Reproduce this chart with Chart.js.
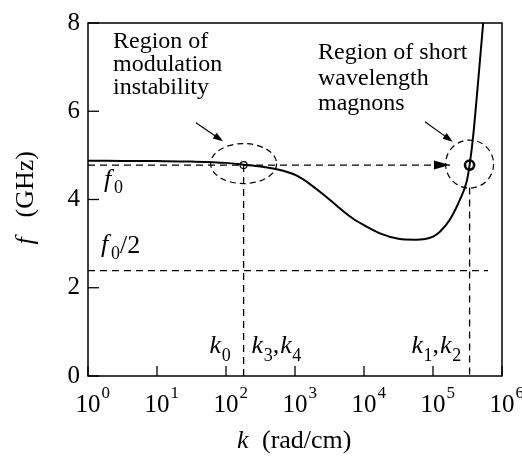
<!DOCTYPE html>
<html><head><meta charset="utf-8">
<script src="https://cdn.jsdelivr.net/npm/chart.js@4.4.1/dist/chart.umd.min.js"></script>
<style>html,body{margin:0;padding:0;background:#fff;}#wrap{width:522px;height:456px;}</style>
</head><body><div id="wrap"><canvas id="c" width="522" height="456"></canvas></div>
<script>
// ---- data ----
const kValues = [1, 3.16, 10, 31.6, 100, 178, 316, 562, 1000, 1330, 1780, 2370, 3160, 4220, 5620, 7500, 10000, 17800, 31600, 56200, 100000, 126000, 178000, 251000, 309000, 339000, 380000, 427000, 479000, 537000];
const fValues = [4.88, 4.875, 4.87, 4.86, 4.83, 4.79, 4.75, 4.68, 4.56, 4.45, 4.31, 4.16, 4.00, 3.83, 3.67, 3.53, 3.42, 3.22, 3.11, 3.09, 3.16, 3.27, 3.56, 4.03, 4.42, 4.78, 5.40, 6.25, 7.15, 8.05];
const f0 = 4.78;
const f0Half = 2.39;
const k3 = 180;
const k1 = 339000;
const kArrowTip = 176000;
const kHalfEnd = 627000;
const k1LineTop = 4.27;
const xTickExponents = [0, 1, 2, 3, 4, 5, 6];
const yTickValues = [0, 2, 4, 6, 8];
const arrowFromK = [36.7, 76600];
const arrowFromF = [5.74, 5.76];
const arrowToK = [90.5, 193000];
const arrowToF = [5.32, 5.31];
const leftNote = ["Region of", "modulation", "instability"];
const rightNote = ["Region of short", "wavelength", "magnons"];

const SERIF = '"Liberation Serif", "Times New Roman", Times, serif';
const curve = kValues.map((k, i) => ({x: k, y: fValues[i]}));
const dashed = {showLine: true, borderColor: '#000', borderWidth: 1.3, borderDash: [7, 5], pointRadius: 0, fill: false};

function arrowHead(ctx, x1, y1, x2, y2, len, half) {
  const ang = Math.atan2(y2 - y1, x2 - x1);
  ctx.beginPath();
  ctx.moveTo(x2, y2);
  ctx.lineTo(x2 - len * Math.cos(ang) + half * Math.sin(ang), y2 - len * Math.sin(ang) - half * Math.cos(ang));
  ctx.lineTo(x2 - len * Math.cos(ang) - half * Math.sin(ang), y2 - len * Math.sin(ang) + half * Math.cos(ang));
  ctx.closePath();
  ctx.fill();
}

const deco = {
  id: 'deco',
  afterDraw(chart) {
    const {ctx, chartArea: a, scales: {x, y}} = chart;
    ctx.save();
    ctx.strokeStyle = '#000'; ctx.fillStyle = '#000';
    ctx.lineWidth = 1.5;
    ctx.strokeRect(a.left, a.top, a.right - a.left, a.bottom - a.top);
    ctx.lineWidth = 1.3;
    xTickExponents.forEach(e => {
      const px = x.getPixelForValue(Math.pow(10, e));
      ctx.beginPath(); ctx.moveTo(px, a.bottom); ctx.lineTo(px, a.bottom - 10); ctx.stroke();
    });
    yTickValues.forEach(v => {
      const py = y.getPixelForValue(v);
      ctx.beginPath(); ctx.moveTo(a.left, py); ctx.lineTo(a.left + 11, py); ctx.stroke();
    });
    ctx.textBaseline = 'alphabetic';
    xTickExponents.forEach(e => {
      const px = x.getPixelForValue(Math.pow(10, e));
      ctx.font = '25px ' + SERIF; ctx.textAlign = 'center';
      ctx.fillText('10', px, a.bottom + 36);
      const w = ctx.measureText('10').width;
      ctx.font = '17px ' + SERIF; ctx.textAlign = 'left';
      ctx.fillText(String(e), px + w / 2 + 1, a.bottom + 22);
    });
    ctx.setLineDash([6, 4]); ctx.lineWidth = 1.2;
    const cx3 = x.getPixelForValue(k3), cy0 = y.getPixelForValue(f0);
    const cx1 = x.getPixelForValue(k1);
    ctx.beginPath(); ctx.ellipse(cx3, cy0 - 1.5, 33, 20, 0, 0, Math.PI * 2); ctx.stroke();
    ctx.beginPath(); ctx.ellipse(cx1, cy0 - 1, 24, 24, 0, 0, Math.PI * 2); ctx.stroke();
    ctx.setLineDash([]);
    ctx.lineWidth = 1.2;
    for (let i = 0; i < arrowFromK.length; i++) {
      const x1 = x.getPixelForValue(arrowFromK[i]), y1 = y.getPixelForValue(arrowFromF[i]);
      const x2 = x.getPixelForValue(arrowToK[i]), y2 = y.getPixelForValue(arrowToF[i]);
      const d = Math.hypot(x2 - x1, y2 - y1);
      ctx.beginPath(); ctx.moveTo(x1, y1); ctx.lineTo(x2 - 4 * (x2 - x1) / d, y2 - 4 * (y2 - y1) / d); ctx.stroke();
      arrowHead(ctx, x1, y1, x2, y2, 10, 3.5);
    }
    const tipX = x.getPixelForValue(kArrowTip);
    arrowHead(ctx, tipX - 20, cy0, tipX, cy0, 16, 4.5);
    ctx.textAlign = 'left';
    ctx.font = '24px ' + SERIF;
    leftNote.forEach((t, i) => ctx.fillText(t, 113, 47.5 + i * 23.4));
    rightNote.forEach((t, i) => ctx.fillText(t, 318, 59 + i * 25.5));
    ctx.font = 'italic 26px ' + SERIF; ctx.fillText('f', 104, 187);
    ctx.font = '18px ' + SERIF; ctx.fillText('0', 114, 193);
    ctx.font = 'italic 26px ' + SERIF; ctx.fillText('f', 101, 252);
    ctx.font = '18px ' + SERIF; ctx.fillText('0', 111, 259);
    ctx.font = '26px ' + SERIF; ctx.fillText('/2', 120, 253);
    function kLab(px, base, subs) {
      let cx = px;
      subs.forEach((s, j) => {
        if (j > 0) { ctx.font = '26px ' + SERIF; ctx.fillText(',', cx, base); cx += ctx.measureText(',').width + 1; }
        ctx.font = 'italic 26px ' + SERIF; ctx.fillText('k', cx, base); cx += ctx.measureText('k').width + 0.5;
        ctx.font = '18px ' + SERIF; ctx.fillText(s, cx, base + 8); cx += ctx.measureText(s).width;
      });
    }
    kLab(cx3 - 34, 353, ['0']);
    kLab(cx3 + 8, 353, ['3', '4']);
    kLab(cx1 - 58, 353, ['1', '2']);
    const mid = (a.left + a.right) / 2;
    ctx.font = 'italic 26px ' + SERIF; ctx.fillText('k', mid - 58, 448);
    ctx.font = '26px ' + SERIF; ctx.fillText('(rad/cm)', mid - 33, 448);
    ctx.save();
    ctx.translate(33, (a.top + a.bottom) / 2);
    ctx.rotate(-Math.PI / 2);
    ctx.font = 'italic 26px ' + SERIF; ctx.fillText('f', -45, 0);
    ctx.font = '26px ' + SERIF; ctx.fillText('(GHz)', -18, 0);
    ctx.restore();
    ctx.restore();
  }
};

function draw() {
  new Chart(document.getElementById('c'), {
    type: 'scatter',
    data: {datasets: [
      {data: curve, showLine: true, borderColor: '#000', borderWidth: 2, pointRadius: 0, cubicInterpolationMode: 'monotone', fill: false},
      Object.assign({data: [{x: 1, y: f0}, {x: kArrowTip, y: f0}]}, dashed),
      Object.assign({data: [{x: 1, y: f0Half}, {x: kHalfEnd, y: f0Half}]}, dashed),
      Object.assign({data: [{x: k3, y: f0}, {x: k3, y: 0}]}, dashed),
      Object.assign({data: [{x: k1, y: k1LineTop}, {x: k1, y: 0}]}, dashed),
      {data: [{x: k3, y: f0}], showLine: false, pointRadius: 3.5, borderWidth: 1.2, borderColor: '#000', backgroundColor: '#fff'},
      {data: [{x: k1, y: f0}], showLine: false, pointRadius: 4.6, borderWidth: 2.6, borderColor: '#000', backgroundColor: 'rgba(255,255,255,0)'}
    ]},
    options: {
      responsive: false, animation: false, events: [],
      layout: {padding: {left: 0, top: 18, right: 20, bottom: 0}},
      plugins: {legend: {display: false}, tooltip: {enabled: false}},
      scales: {
        x: {type: 'logarithmic', min: 1, max: 1e6,
            afterFit(s) { s.height = 80; },
            afterBuildTicks(s) { s.ticks = xTickExponents.map(e => ({value: Math.pow(10, e)})); },
            ticks: {display: false}, grid: {display: false, drawTicks: false}, border: {display: false}},
        y: {min: 0, max: 8,
            afterFit(s) { s.width = 88; },
            afterBuildTicks(s) { s.ticks = yTickValues.map(v => ({value: v})); },
            ticks: {font: {family: SERIF, size: 25}, color: '#000', padding: 8},
            grid: {display: false, drawTicks: false}, border: {display: false}}
      }
    },
    plugins: [deco]
  });
}
const loads = ['24px "Liberation Serif"', 'italic 26px "Liberation Serif"'].map(f => document.fonts.load(f));
Promise.race([Promise.all(loads), new Promise(r => setTimeout(r, 1500))]).then(draw, draw);
</script></body></html>
